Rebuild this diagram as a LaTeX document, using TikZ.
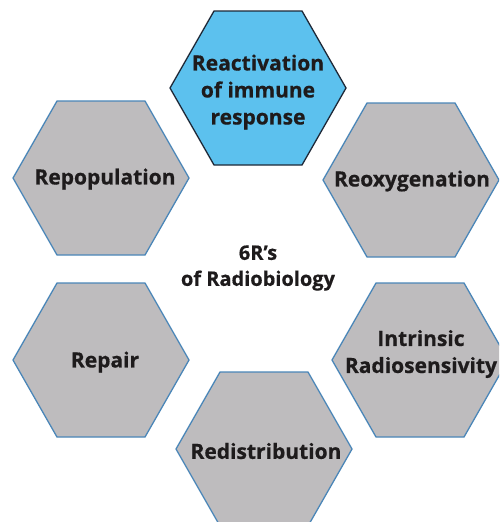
\documentclass[tikz,border=0pt]{standalone}
\usepackage{fontspec}
\setmainfont{Open Sans}[BoldFeatures={FakeBold=0.6}]
\usetikzlibrary{backgrounds}
\definecolor{hexgray}{RGB}{190,188,190}
\definecolor{hexblue}{RGB}{92,193,238}
\definecolor{hexedge}{RGB}{74,134,184}
\definecolor{topedge}{RGB}{30,40,55}
\definecolor{txt}{RGB}{30,27,28}
\tikzset{
  lbl/.style={font=\fontsize{21}{27}\selectfont\bfseries, text=txt, align=center, inner sep=0pt},
  grayhex/.style={fill=hexgray, draw=hexedge, line width=1.3pt, line join=miter},
  bluehex/.style={fill=hexblue, draw=topedge, line width=1.3pt, line join=miter},
}
\newcommand{\hexpath}[2]{\draw[#1] (#2) ++(-88,0) -- ++(44,-77) -- ++(88,0) -- ++(44,77) -- ++(-44,77) -- ++(-88,0) -- cycle;}
\begin{document}
\begin{tikzpicture}[x=1pt,y=-1pt]
\useasboundingbox (0,0) rectangle (499,522);
\clip (0,0) rectangle (499,522);
\fill[white] (0,0) rectangle (499,522);
\coordinate (ctop) at (258,88);
\coordinate (crepop) at (101,178);
\coordinate (creox) at (411,180);
\coordinate (crepair) at (101,360);
\coordinate (cintr) at (420,360);
\coordinate (credis) at (264,449);
\hexpath{bluehex}{ctop}
\hexpath{grayhex}{crepop}
\hexpath{grayhex}{creox}
\hexpath{grayhex}{crepair}
\hexpath{grayhex}{cintr}
\hexpath{grayhex}{credis}
\node[lbl] (top) at (258,92) {Reactivation\\of immune\\response};
\node[lbl] (repop) at (105,179) {Repopulation};
\node[lbl] (reox) at (412,181) {Reoxygenation};
\node[lbl] (repair) at (105,362) {Repair};
\node[lbl] (intr) at (421,354) {Intrinsic\\Radiosensivity};
\node[lbl] (redis) at (266,451) {Redistribution};
\node[lbl, font=\fontsize{20}{26}\selectfont\bfseries] (ctr) at (258,268) {6R’s\\of Radiobiology};
\end{tikzpicture}
\end{document}
